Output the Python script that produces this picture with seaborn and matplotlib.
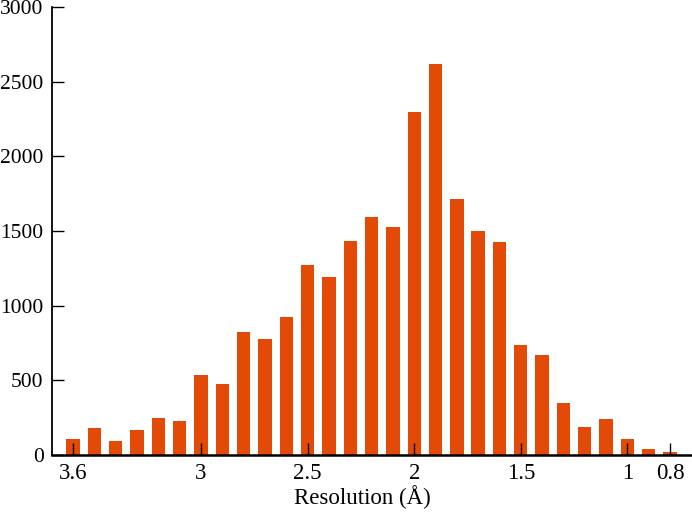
import matplotlib
matplotlib.use("Agg")
import matplotlib.pyplot as plt
import seaborn as sns
import pandas as pd

resolution = [3.6, 3.5, 3.4, 3.3, 3.2, 3.1, 3.0, 2.9, 2.8, 2.7, 2.6, 2.5, 2.4, 2.3, 2.2,
              2.1, 2.0, 1.9, 1.8, 1.7, 1.6, 1.5, 1.4, 1.3, 1.2, 1.1, 1.0, 0.9, 0.8]
counts = [110, 182, 96, 170, 249, 231, 538, 477, 824, 777, 921, 1273, 1194, 1430, 1594,
          1529, 2295, 2620, 1715, 1502, 1426, 740, 668, 350, 186, 240, 110, 38, 18]
tick_values = [3.6, 3.0, 2.5, 2.0, 1.5, 1.0, 0.8]
tick_labels = ["3.6", "3", "2.5", "2", "1.5", "1", "0.8"]
y_ticks = [0, 500, 1000, 1500, 2000, 2500, 3000]

sns.set_style("ticks")
plt.rcParams["font.family"] = ["Liberation Serif", "DejaVu Serif"]

df = pd.DataFrame({"res": [f"{r:.1f}" for r in resolution], "count": counts})
order = df["res"].tolist()

fig = plt.figure(figsize=(6.92, 5.12), dpi=100)
ax = fig.add_axes([0.0751, 0.1113, 0.9249, 0.875])
sns.barplot(data=df, x="res", y="count", order=order, color="#E34A07",
            saturation=1, width=0.625, linewidth=0, ax=ax)

ax.set_xlim(-0.99, 29.03)
ax.set_ylim(0, 3000)
pos = [order.index(f"{t:.1f}") for t in tick_values]
ax.set_xticks(pos)
ax.set_xticklabels(tick_labels)
ax.set_yticks(y_ticks)
ax.set_yticklabels([str(v) for v in y_ticks])
ax.tick_params(axis="both", direction="in", length=8.6, width=1.0, color="black",
               labelcolor="black")
ax.tick_params(axis="y", pad=6.0, labelsize=15.5)
ax.tick_params(axis="x", pad=5.5, labelsize=16.5)
ax.set_axisbelow(False)
ax.set_xlabel("Resolution (Å)", fontsize=16.5, color="black")
ax.xaxis.set_label_coords((362.5 - 52) / 640, (455 - 497) / 448, transform=ax.transAxes)
ax.xaxis.label.set_verticalalignment("center")
ax.set_ylabel("")
sns.despine(ax=ax, top=True, right=True)
ax.spines["left"].set_linewidth(1.3)
ax.spines["bottom"].set_linewidth(1.8)
ax.spines["left"].set_color("black")
ax.spines["bottom"].set_color("black")
fig.savefig("out.png", dpi=100)
